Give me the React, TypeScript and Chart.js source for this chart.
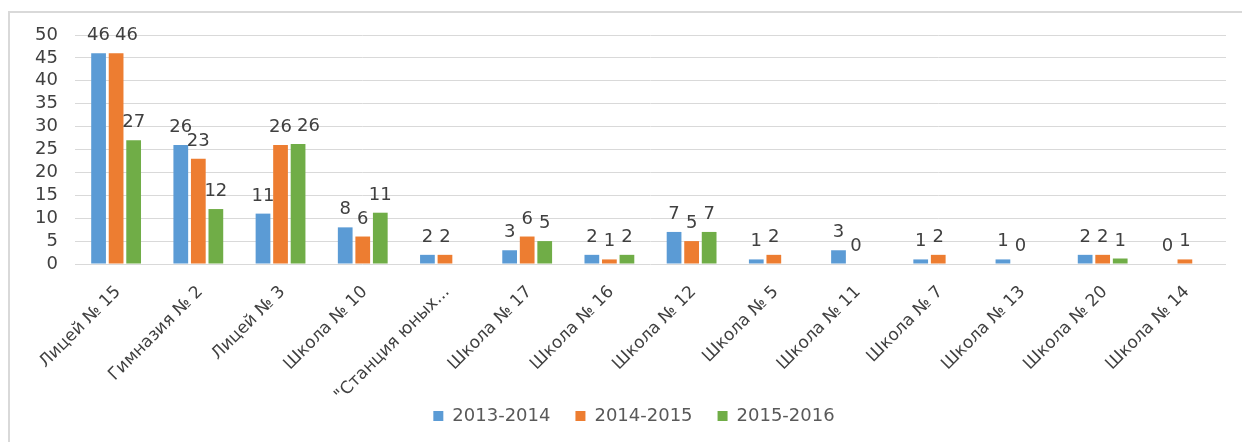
import React, { useEffect, useRef } from "react";
import { Chart, registerables } from "chart.js";

Chart.register(...registerables);

const categories = [
  "Лицей № 15",
  "Гимназия № 2",
  "Лицей № 3",
  "Школа № 10",
  "\"Станция юных...",
  "Школа № 17",
  "Школа № 16",
  "Школа № 12",
  "Школа № 5",
  "Школа № 11",
  "Школа № 7",
  "Школа № 13",
  "Школа № 20",
  "Школа № 14",
];
const seriesNames = ["2013-2014", "2014-2015", "2015-2016"];
const values2013 = [46, 26, 11, 8, 2, 3, 2, 7, 1, 3, 1, 1, 2, 0];
const values2014 = [46, 23, 26, 6, 2, 6, 1, 5, 2, 0, 2, 0, 2, 1];
const values2015 = [27, 12, 26.2, 11.2, null, 5, 2, 7, null, null, null, null, 1.2, null];
const labels2015 = ["27", "12", "26", "11", null, "5", "2", "7", null, null, null, null, "1", null];
const seriesColors = ["#5B9BD5", "#ED7D31", "#70AD47"];
const yMin = 0;
const yMax = 50;
const yStep = 5;

const FONT = '"DejaVu Sans", sans-serif';

const labelPlugin = {
  id: "barValueLabels",
  afterLayout(chart: any) {
    // widen the x-axis label clip region and shift the legend to the reference position
    if (chart.scales.x) chart.scales.x.bottom = chart.height;
    if (chart.legend) chart.legend.left += 42;
  },
  afterDatasetsDraw(chart: any) {
    const ctx = chart.ctx;
    ctx.save();
    ctx.font = `18px ${FONT}`;
    ctx.fillStyle = "#404040";
    ctx.textAlign = "center";
    ctx.textBaseline = "alphabetic";
    const n = chart.data.labels.length;
    for (let i = 0; i < n; i++) {
      const placed: any[] = [];
      chart.data.datasets.forEach((ds: any, di: number) => {
        const v = ds.data[i];
        if (v == null) return;
        const el = chart.getDatasetMeta(di).data[i];
        const text = ds.valueLabels ? ds.valueLabels[i] : String(v);
        const w = ctx.measureText(text).width;
        const h = 13;
        let cx = el.x;
        const yb = el.y - 13;
        const box = { l: cx - w / 2, r: cx + w / 2, t: yb - h, b: yb };
        for (const p of placed) {
          if (box.l < p.r + 2 && box.r > p.l - 2 && box.t < p.b && box.b > p.t) {
            const shift = p.r + 5 - box.l;
            box.l += shift;
            box.r += shift;
            cx += shift;
          }
        }
        placed.push(box);
        ctx.fillText(text, cx, yb);
      });
    }
    ctx.restore();
  },
};

export default function App() {
  const ref = useRef<HTMLCanvasElement | null>(null);

  useEffect(() => {
    if (!ref.current) return;
    const data = [values2013, values2014, values2015];
    const chart = new Chart(ref.current, {
      type: "bar",
      data: {
        labels: categories,
        datasets: data.map((d, k) => ({
          label: seriesNames[k],
          data: d,
          backgroundColor: seriesColors[k],
          borderWidth: 0,
          categoryPercentage: 0.64,
          barPercentage: 0.84,
          valueLabels: k === 2 ? labels2015 : null,
        })) as any,
      },
      options: {
        animation: false,
        responsive: false,
        maintainAspectRatio: false,
        devicePixelRatio: 1,
        layout: { padding: { top: 35, right: 16, bottom: 7, left: 0 } },
        plugins: {
          tooltip: { enabled: false },
          legend: {
            position: "bottom",
            labels: {
              boxWidth: 10,
              boxHeight: 10,
              padding: 25,
              color: "#595959",
              font: { family: FONT, size: 18 },
            },
          },
        },
        scales: {
          x: {
            grid: { display: false, drawTicks: false },
            border: { display: false },
            ticks: {
              minRotation: 45,
              maxRotation: 45,
              autoSkip: false,
              padding: 18,
              labelOffset: 2,
              color: "#404040",
              font: { family: FONT, size: 17 },
            },
            afterFit: (s: any) => {
              s.height = 118;
            },
          },
          y: {
            min: yMin,
            max: yMax,
            grid: { color: "#d9d9d9", lineWidth: 1, drawTicks: false },
            border: { display: false },
            ticks: {
              stepSize: yStep,
              autoSkip: false,
              padding: 17,
              color: "#404040",
              font: { family: FONT, size: 18 },
            },
            afterFit: (s: any) => {
              s.width = 75;
            },
          },
        },
      },
      plugins: [labelPlugin],
    });
    return () => chart.destroy();
  }, []);

  return (
    <div style={{ position: "fixed", left: 0, top: 0, width: 1242, height: 442, background: "#fff" }}>
      <div
        style={{
          position: "absolute",
          left: 8,
          top: 11,
          width: 1234,
          height: 431,
          borderTop: "2px solid #d9d9d9",
          borderLeft: "2px solid #d9d9d9",
          boxSizing: "border-box",
        }}
      />
      <canvas ref={ref} width={1242} height={442} style={{ position: "absolute", left: 0, top: 0 }} />
    </div>
  );
}
